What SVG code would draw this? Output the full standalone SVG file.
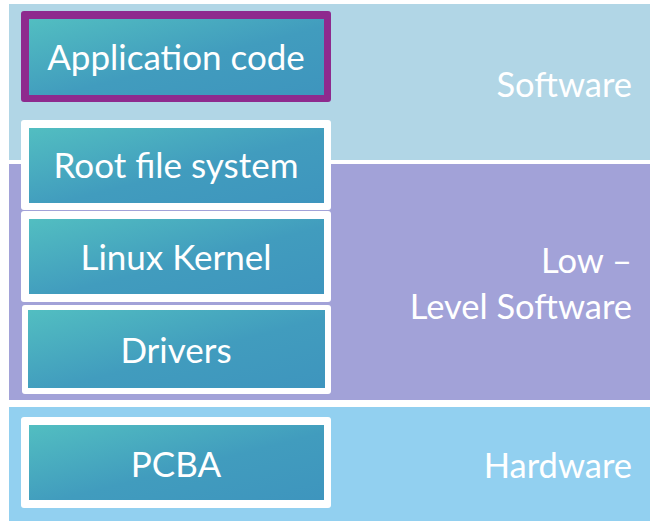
<svg xmlns="http://www.w3.org/2000/svg" width="650" height="521" viewBox="0 0 650 521">
<defs>
<linearGradient id="teal" x1="0" y1="0" x2="1" y2="1" gradientUnits="objectBoundingBox">
<stop offset="0" stop-color="#52BEC1"/>
<stop offset="0.55" stop-color="#419CBE"/>
<stop offset="1" stop-color="#3E95BE"/>
</linearGradient>
<style>
.inner{fill:url(#teal);}
.frame{fill:#FFFFFF;}
.lbl{font-family:"Lato","Open Sans","Liberation Sans",sans-serif;font-size:35px;fill:#FFFFFF;text-anchor:middle;}
.band{font-family:"Lato","Open Sans","Liberation Sans",sans-serif;font-size:34.5px;fill:#FFFFFF;text-anchor:end;}
</style>
</defs>
<rect width="650" height="521" fill="#FFFFFF"/>
<g id="band-software">
<rect x="9" y="4" width="641" height="156" fill="#B1D6E6"/>
<text class="band" x="632" y="97">Software</text>
</g>
<g id="band-lowlevel">
<rect x="9" y="164" width="641" height="236" fill="#A2A2D8"/>
<text class="band" x="632" y="273">Low –</text>
<text class="band" x="632" y="319">Level Software</text>
</g>
<g id="band-hardware">
<rect x="9" y="407" width="641" height="114" fill="#92D0F0"/>
<text class="band" x="632" y="478">Hardware</text>
</g>
<g id="node-app">
<rect x="21" y="11" width="310" height="91" rx="3" fill="#8E2A8E"/>
<rect class="inner" x="29" y="19" width="295" height="76"/>
<text class="lbl" x="176" y="70">Application code</text>
</g>
<g id="node-rootfs">
<rect class="frame" x="21" y="120" width="310" height="90" rx="3"/>
<rect class="inner" x="29" y="128" width="295" height="75"/>
<text class="lbl" x="176" y="178">Root file system</text>
</g>
<g id="node-kernel">
<rect class="frame" x="21" y="211" width="310" height="91" rx="3"/>
<rect class="inner" x="29" y="219" width="295" height="75"/>
<text class="lbl" x="176" y="270">Linux Kernel</text>
</g>
<g id="node-drivers">
<rect class="frame" x="22" y="305" width="309" height="89" rx="3"/>
<rect class="inner" x="28" y="310" width="297" height="78"/>
<text class="lbl" x="176" y="363">Drivers</text>
</g>
<g id="node-pcba">
<rect class="frame" x="21" y="417" width="310" height="91" rx="3"/>
<rect class="inner" x="29" y="425" width="295" height="75"/>
<text class="lbl" x="176" y="477">PCBA</text>
</g>
<g id="connectors"/>
</svg>
